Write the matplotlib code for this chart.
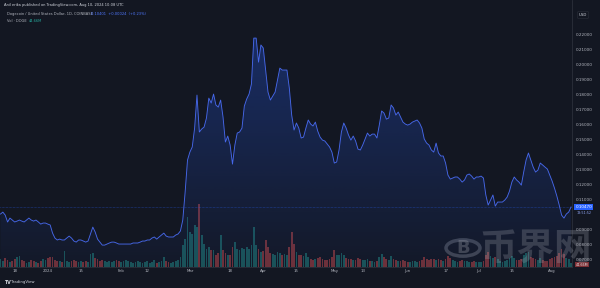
import numpy as np
import pandas as pd
import matplotlib
matplotlib.use("Agg")
import matplotlib.pyplot as plt
import matplotlib.dates as mdates
import matplotlib.transforms as mtransforms
from matplotlib.patches import Polygon, Circle

# daily close, DOGE/USD (Dec 12 2023 -> Aug 9 2024)
price = [
    0.1000, 0.1013, 0.0993, 0.0947, 0.0973, 0.0960, 0.0947, 0.0953, 0.0960, 0.0953,
    0.0947, 0.0960, 0.0973, 0.0960, 0.0953, 0.0960, 0.0947, 0.0933, 0.0940, 0.0940,
    0.0933, 0.0927, 0.0873, 0.0840, 0.0827, 0.0833, 0.0827, 0.0827, 0.0840, 0.0853,
    0.0840, 0.0820, 0.0813, 0.0827, 0.0827, 0.0820, 0.0813, 0.0820, 0.0867, 0.0913,
    0.0880, 0.0833, 0.0813, 0.0793, 0.0793, 0.0800, 0.0807, 0.0813, 0.0813, 0.0807,
    0.0800, 0.0800, 0.0800, 0.0800, 0.0800, 0.0800, 0.0807, 0.0807, 0.0807, 0.0813,
    0.0820, 0.0820, 0.0827, 0.0827, 0.0840, 0.0847, 0.0833, 0.0847, 0.0860, 0.0873,
    0.0853, 0.0847, 0.0847, 0.0847, 0.0860, 0.0867, 0.0887, 0.0960, 0.1147, 0.1360,
    0.1413, 0.1447, 0.1573, 0.1793, 0.1547, 0.1567, 0.1580, 0.1640, 0.1773, 0.1740,
    0.1800, 0.1727, 0.1713, 0.1760, 0.1647, 0.1480, 0.1520, 0.1460, 0.1333, 0.1460,
    0.1540, 0.1547, 0.1573, 0.1720, 0.1767, 0.1800, 0.1867, 0.2173, 0.2173, 0.2013,
    0.2127, 0.2107, 0.1960, 0.1813, 0.1760, 0.1787, 0.1813, 0.1893, 0.1973, 0.1960,
    0.1960, 0.1960, 0.1840, 0.1660, 0.1560, 0.1607, 0.1573, 0.1507, 0.1513, 0.1573,
    0.1627, 0.1600, 0.1587, 0.1613, 0.1553, 0.1513, 0.1493, 0.1487, 0.1467, 0.1447,
    0.1413, 0.1340, 0.1347, 0.1427, 0.1547, 0.1607, 0.1573, 0.1527, 0.1493, 0.1520,
    0.1487, 0.1433, 0.1427, 0.1460, 0.1500, 0.1540, 0.1520, 0.1533, 0.1533, 0.1507,
    0.1593, 0.1687, 0.1673, 0.1633, 0.1640, 0.1727, 0.1707, 0.1660, 0.1680, 0.1647,
    0.1613, 0.1600, 0.1593, 0.1600, 0.1613, 0.1620, 0.1627, 0.1607, 0.1573, 0.1500,
    0.1473, 0.1460, 0.1427, 0.1413, 0.1473, 0.1407, 0.1387, 0.1387, 0.1340, 0.1260,
    0.1233, 0.1240, 0.1247, 0.1247, 0.1233, 0.1213, 0.1227, 0.1260, 0.1267, 0.1253,
    0.1233, 0.1247, 0.1247, 0.1253, 0.1240, 0.1127, 0.1060, 0.1093, 0.1127, 0.1053,
    0.1080, 0.1080, 0.1080, 0.1093, 0.1113, 0.1153, 0.1213, 0.1247, 0.1227, 0.1213,
    0.1193, 0.1280, 0.1360, 0.1407, 0.1360, 0.1313, 0.1280, 0.1293, 0.1340, 0.1327,
    0.1313, 0.1300, 0.1260, 0.1220, 0.1173, 0.1120, 0.1060, 0.0993, 0.0973, 0.1000,
    0.1013, 0.1047,
]

# daily volume, millions of DOGE
volume = [
    80, 60, 90, 70, 50, 60, 80, 100, 110, 70,
    60, 40, 50, 70, 60, 50, 40, 60, 80, 70,
    90, 100, 100, 70, 60, 60, 50, 160, 60, 50,
    60, 70, 60, 50, 60, 50, 60, 50, 130, 140,
    90, 80, 60, 70, 60, 50, 60, 50, 60, 70,
    60, 50, 60, 70, 60, 50, 40, 50, 60, 50,
    40, 50, 60, 40, 50, 70, 40, 50, 60, 100,
    60, 50, 40, 50, 60, 70, 100, 220, 280, 500,
    350, 330, 420, 400, 630, 320, 230, 180, 200, 170,
    170, 120, 140, 320, 170, 140, 120, 120, 200, 250,
    180, 170, 190, 180, 200, 180, 220, 400, 220, 180,
    150, 160, 270, 200, 140, 130, 120, 150, 140, 120,
    130, 120, 200, 350, 230, 150, 120, 120, 110, 140,
    100, 80, 70, 80, 90, 100, 80, 70, 70, 80,
    100, 170, 120, 120, 140, 120, 90, 80, 80, 70,
    70, 90, 80, 70, 70, 80, 60, 60, 50, 60,
    100, 130, 100, 80, 70, 110, 80, 70, 60, 60,
    70, 60, 50, 50, 60, 60, 50, 60, 70, 100,
    80, 70, 80, 80, 70, 80, 70, 60, 80, 110,
    90, 70, 60, 50, 60, 70, 60, 60, 50, 50,
    60, 50, 50, 50, 60, 120, 150, 110, 90, 100,
    80, 60, 50, 60, 70, 90, 110, 90, 70, 70,
    80, 120, 140, 150, 100, 90, 80, 70, 90, 70,
    60, 60, 80, 90, 100, 110, 140, 180, 130, 90,
    80, 45,
]

# 0.10000 sits under the last-price box, so the scale leaves it out
price_ticks = [0.07, 0.08, 0.09, 0.11, 0.12, 0.13, 0.14, 0.15, 0.16,
               0.17, 0.18, 0.19, 0.20, 0.21, 0.22]
time_ticks = ["2023-12-18", "2024-01-01", "2024-01-15", "2024-02-01", "2024-02-12",
              "2024-03-01", "2024-03-18", "2024-04-01", "2024-04-15", "2024-05-01",
              "2024-05-13", "2024-06-01", "2024-06-17", "2024-07-01", "2024-07-15",
              "2024-08-01"]
time_labels = ["18", "2024", "15", "Feb", "12", "Mar", "18", "Apr", "15", "May",
               "13", "Jun", "17", "Jul", "15", "Aug"]

BG = "#131722"
TXT = "#b2b5be"
LINE = "#4667e8"
UP = "#26a69a"
DOWN = "#ef5350"

price = np.array(price)
volume = np.array(volume)
dates = pd.date_range("2023-12-12", periods=len(price), freq="D")
x = mdates.date2num(dates)

colors = [UP] + [UP if price[i] >= price[i - 1] else DOWN for i in range(1, len(price))]

fig = plt.figure(figsize=(6, 2.88), dpi=100, facecolor=BG)
ax = fig.add_axes([0, 21 / 288, 572 / 600, 267 / 288])
ax2 = ax.twinx()
ax.set_zorder(2)
ax2.set_zorder(1)
ax.patch.set_visible(False)

ymin, ymax = 0.0647, 0.2427

# volume bars
ax2.bar(x, volume, width=0.75, color=colors, alpha=0.42, linewidth=0)
ax2.set_ylim(0, 2670)
ax2.set_yticks([])

# area with gradient
grad = np.zeros((256, 1, 4))
grad[..., 0] = 41 / 255
grad[..., 1] = 98 / 255
grad[..., 2] = 1.0
grad[:, 0, 3] = np.linspace(0.03, 0.3, 256)
img = ax.imshow(grad, aspect="auto", origin="lower",
                extent=[x[0], x[-1], ymin, price.max()], zorder=1)
verts = [(x[0], ymin)] + list(zip(x, price)) + [(x[-1], ymin)]
poly = Polygon(verts, closed=True, facecolor="none", edgecolor="none")
ax.add_patch(poly)
img.set_clip_path(poly)

ax.plot(x, price, color=LINE, lw=0.65, zorder=3)
ax.axhline(price[-1], color="#2962ff", lw=0.4, ls=(0, (1, 1.5)), alpha=0.8, zorder=2)

ax.set_xlim(x[0] - 0.2, x[0] + 241.4)
ax.set_ylim(ymin, ymax)

ax.yaxis.tick_right()
ax.set_yticks(price_ticks)
ax.set_yticklabels([f"{t:.5f}" for t in price_ticks])
ax.set_xticks(mdates.date2num(pd.to_datetime(time_ticks)))
ax.set_xticklabels(time_labels)
ax.tick_params(axis="y", length=0, pad=2.5, labelsize=3, colors=TXT)
ax.tick_params(axis="x", length=0, pad=1.5, labelsize=2.8, colors=TXT)

for a in (ax, ax2):
    for s in ("top", "left"):
        a.spines[s].set_visible(False)
    a.spines["right"].set_color("#2a2e39")
    a.spines["bottom"].set_color("#2a2e39")
    a.spines["right"].set_linewidth(0.5)
    a.spines["bottom"].set_linewidth(0.5)

# labels on the price scale
trans = mtransforms.blended_transform_factory(ax.transAxes, ax.transData)
ax.text(1.006, price[-1], f"{price[-1]:.5f}", transform=trans, fontsize=3,
        color="white", va="center", ha="left",
        bbox=dict(boxstyle="square,pad=0.3", fc="#2962ff", ec="none"))
ax.text(1.008, price[-1] - 0.0037, "13:51:52", transform=trans, fontsize=2.4,
        color="#8ea2f0", va="center", ha="left")
trans2 = mtransforms.blended_transform_factory(ax2.transAxes, ax2.transData)
ax2.text(1.006, volume[-1] - 20, "44.66M", transform=trans2, fontsize=2.4,
         color="#e0e0e0", va="center", ha="left",
         bbox=dict(boxstyle="square,pad=0.2", fc="#7d2f35", ec="none"))
fig.text(583 / 600, 1 - 15 / 288, "USD", fontsize=2.8, color="#d1d4dc",
         ha="center", va="center",
         bbox=dict(boxstyle="round,pad=0.4", fc=BG, ec="#2a2e39", lw=0.4))

# header
fig.text(4 / 600, 1 - 5 / 288,
         "Anil erika published on TradingView.com, Aug 10, 2024 10:08 UTC",
         fontsize=2.6, color="#d1d4dc", va="center")
fig.text(7 / 600, 1 - 14 / 288, "Dogecoin / United States Dollar, 1D, COINBASE",
         fontsize=2.6, color=TXT, va="center")
fig.text(91 / 600, 1 - 14 / 288, "0.10401  +0.00024  (+0.23%)",
         fontsize=2.6, color="#4f78ff", va="center")
fig.text(7 / 600, 1 - 21 / 288, "Vol · DOGE", fontsize=2.6, color=TXT, va="center")
fig.text(29 / 600, 1 - 21 / 288, "44.66M", fontsize=2.6, color=UP, va="center")

# footer logo
fig.text(4 / 600, 1 - 282 / 288, "TV", fontsize=3.4, weight="bold",
         color="#d1d4dc", va="center")
fig.text(11 / 600, 1 - 282 / 288, "TradingView", fontsize=2.8,
         color="#d1d4dc", va="center")

# watermark
wm = Circle((463 / 600, 1 - 248 / 288), 17 / 600, transform=fig.transFigure,
            fill=False, ec="#9a9ea8", lw=2.5, alpha=0.33)
fig.patches.append(wm)
fig.text(463 / 600, 1 - 248 / 288, "B", fontsize=13, weight="bold",
         color="#9a9ea8", alpha=0.33, ha="center", va="center")
fig.text(479 / 600, 1 - 249 / 288, "币界网", fontsize=27, weight="bold",
         color="#9a9ea8", alpha=0.28, ha="left", va="center",
         family=["Noto Sans CJK SC", "DejaVu Sans"])

fig.savefig("out.png", dpi=100, facecolor=BG)
